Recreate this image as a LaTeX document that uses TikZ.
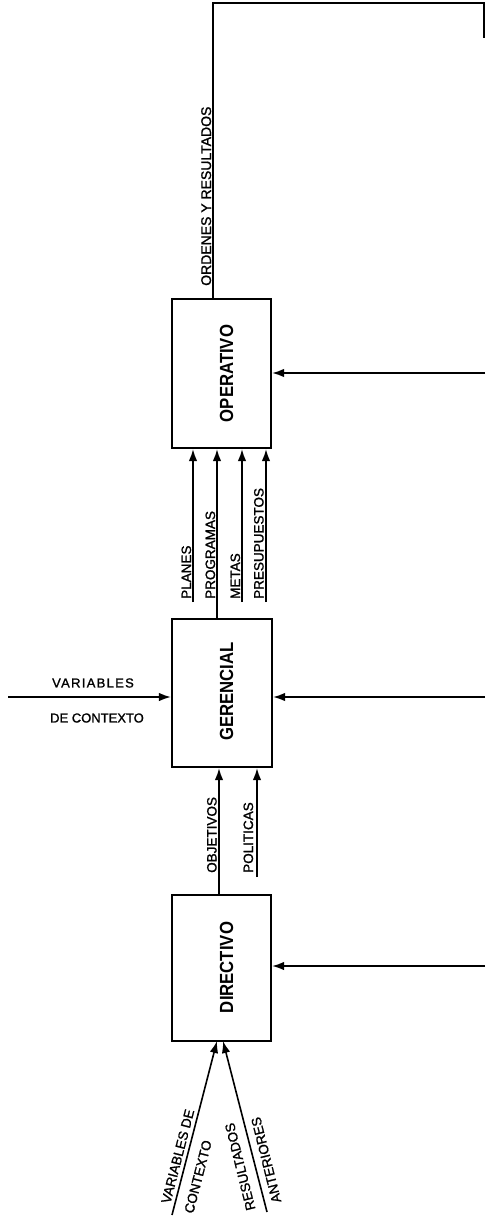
\documentclass[tikz,border=0pt]{standalone}
\usepackage{fontspec}
\setmainfont[FakeBold=1.3]{Liberation Sans}
\newfontfamily\boxfont[FakeStretch=0.88]{Liberation Sans}
\usetikzlibrary{arrows.meta}
\begin{document}
\begin{tikzpicture}[x=1pt,y=1pt,
  box/.style={draw, line width=2.2pt, inner sep=0pt},
  boxlbl/.style={font=\boxfont\bfseries\fontsize{19}{19}\selectfont, rotate=90, inner sep=0pt},
  lbl/.style={font=\fontsize{13.5}{13.5}\selectfont, inner sep=0pt},
  vlbl/.style={lbl, rotate=90, anchor=base west},
  conn/.style={line width=1.6pt},
  arr/.style={conn, -{Latex[length=12pt,width=8.5pt]}}]
\useasboundingbox (0,0) rectangle (485,-1220);

% boxes
\node[box, minimum width=99pt, minimum height=149pt] (op) at (221.5,-373.5) {};
\node[box, minimum width=100pt, minimum height=148pt] (ge) at (222,-693) {};
\node[box, minimum width=99pt, minimum height=146pt] (di) at (221.5,-968) {};
\node[boxlbl] (opl) at (226.5,-373.5) {OPERATIVO};
\node[boxlbl] (gel) at (226.5,-691.5) {GERENCIAL};
\node[boxlbl] (dil) at (226.5,-967.5) {DIRECTIVO};

% top feedback line
\coordinate (t1) at (213,-3);
\coordinate (t2) at (484,-3);
\coordinate (t3) at (484,-38);
\draw[conn] (op.north -| t1) -- (t1) -- (t2) -- (t3);
\node[vlbl] (ord) at (211,-286) {\fontsize{14}{14}\selectfont ORDENES Y RESULTADOS};

% right arrows
\coordinate (r1) at (485,-373);
\coordinate (r2) at (485,-697);
\coordinate (r3) at (485,-966);
\draw[arr] (r1) -- (r1 -| op.east);
\draw[arr] (r2) -- (r2 -| ge.east);
\draw[arr] (r3) -- (r3 -| di.east);

% left arrow
\coordinate (l2) at (8,-697);
\draw[arr] (l2) -- (l2 -| ge.west);
\node[lbl, font=\fontsize{13}{13}\selectfont\addfontfeatures{LetterSpace=10}] (var) at (93,-683) {VARIABLES};
\node[lbl, font=\fontsize{13}{13}\selectfont] (dec) at (97,-718) {DE CONTEXTO};

% inputs to operativo
\coordinate (p1) at (193,-602);
\coordinate (p2) at (217,-602);
\coordinate (p3) at (242,-602);
\coordinate (p4) at (266,-602);
\draw[arr] (p1) -- (p1 |- op.south);
\draw[arr] (p2 |- ge.north) -- (p2 |- op.south);
\draw[arr] (p3) -- (p3 |- op.south);
\draw[arr] (p4) -- (p4 |- op.south);
\node[vlbl] (pla) at (191,-599) {PLANES};
\node[vlbl] (pro) at (215,-599) {PROGRAMAS};
\node[vlbl] (met) at (240,-599) {METAS};
\node[vlbl] (pre) at (263.5,-599) {PRESUPUESTOS};

% inputs to gerencial
\coordinate (o1) at (219,-880);
\coordinate (o2) at (257,-877);
\draw[arr] (o1 |- di.north) -- (o1 |- ge.south);
\draw[arr] (o2) -- (o2 |- ge.south);
\node[vlbl] (obj) at (216.5,-873) {OBJETIVOS};
\node[vlbl] (pol) at (253,-873) {POLITICAS};

% inputs to directivo
\coordinate (b1) at (172,-1215);
\coordinate (b2) at (267,-1212);
\coordinate (d1) at (217,-1041);
\coordinate (d2) at (223,-1041);
\draw[arr] (b1) -- (d1);
\draw[arr] (b2) -- (d2);
\node[lbl, rotate=75.5] (vde) at (177.8,-1156.3) {VARIABLES DE};
\node[lbl, rotate=75.5] (con) at (198,-1176.7) {CONTEXTO};
\node[lbl, rotate=104] (res) at (240.2,-1166.7) {RESULTADOS};
\node[lbl, rotate=104] (ant) at (266.2,-1160) {ANTERIORES};
\end{tikzpicture}
\end{document}
